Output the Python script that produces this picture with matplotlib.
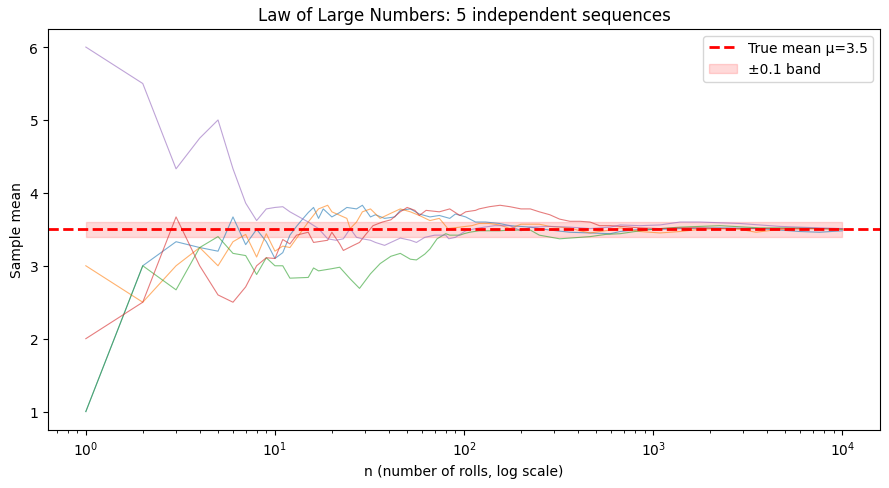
import matplotlib
matplotlib.use("Agg")
import matplotlib.pyplot as plt

# running sample means (n, mean) per sequence
n_blue = [1, 2, 3, 4, 5, 6, 7, 8, 9, 10, 11, 12, 13, 14, 15, 16, 17, 18, 20, 22, 24, 27, 29, 32, 34,
          38, 43, 46, 52, 58, 66, 74, 84, 90, 102, 115, 130, 154, 175, 224, 284, 363, 464, 593,
          669, 853, 1087, 1386, 2253, 3664, 5958, 7598, 10000]
m_blue = [1.0, 3.0, 3.33, 3.25, 3.2, 3.67, 3.29, 3.5, 3.33, 3.1, 3.18, 3.42, 3.54, 3.64, 3.73, 3.8,
          3.65, 3.78, 3.67, 3.73, 3.8, 3.78, 3.83, 3.67, 3.7, 3.65, 3.67, 3.76, 3.78, 3.71, 3.67,
          3.69, 3.65, 3.71, 3.67, 3.6, 3.6, 3.58, 3.55, 3.53, 3.49, 3.46, 3.45, 3.44, 3.47, 3.5,
          3.5, 3.51, 3.52, 3.51, 3.47, 3.46, 3.48]

n_orange = [1, 2, 3, 4, 5, 6, 7, 8, 9, 10, 11, 12, 15, 17, 19, 20, 24, 25, 27, 29, 32, 36, 41, 46,
            52, 58, 66, 74, 78, 82, 95, 110, 120, 136, 154, 175, 200, 250, 284, 320, 363, 410,
            464, 520, 593, 669, 853, 1087, 1386, 1767, 2253, 2873, 3500, 4672, 7598, 10000]
m_orange = [3.0, 2.5, 3.0, 3.25, 3.0, 3.33, 3.43, 3.12, 3.44, 3.2, 3.27, 3.25, 3.6, 3.78, 3.83,
            3.74, 3.65, 3.51, 3.6, 3.74, 3.78, 3.65, 3.72, 3.78, 3.74, 3.69, 3.62, 3.65, 3.58,
            3.51, 3.53, 3.55, 3.58, 3.58, 3.56, 3.51, 3.57, 3.57, 3.54, 3.53, 3.52, 3.48, 3.45,
            3.47, 3.49, 3.52, 3.47, 3.45, 3.47, 3.5, 3.51, 3.5, 3.46, 3.5, 3.51, 3.5]

n_green = [1, 2, 3, 4, 5, 6, 7, 8, 9, 10, 11, 12, 15, 16, 17, 20, 22, 25, 28, 32, 36, 41, 46, 52,
           56, 62, 66, 72, 80, 84, 95, 100, 107, 120, 154, 175, 224, 250, 320, 410, 464, 560,
           669, 853, 1087, 1386, 1767, 2253, 3664, 5958, 10000]
m_green = [1.0, 3.0, 2.67, 3.25, 3.4, 3.17, 3.14, 2.88, 3.11, 3.0, 3.0, 2.83, 2.84, 2.97, 2.93,
           2.96, 2.98, 2.82, 2.69, 2.89, 3.03, 3.13, 3.17, 3.09, 3.08, 3.16, 3.23, 3.37, 3.44,
           3.42, 3.42, 3.44, 3.46, 3.48, 3.48, 3.49, 3.49, 3.42, 3.37, 3.39, 3.4, 3.43, 3.44,
           3.48, 3.51, 3.53, 3.54, 3.55, 3.52, 3.52, 3.5]

n_red = [1, 2, 3, 4, 5, 6, 7, 8, 9, 10, 11, 12, 13, 15, 16, 19, 20, 22, 23, 26, 28, 30, 33, 37,
         41, 46, 50, 55, 58, 63, 74, 84, 95, 102, 115, 120, 136, 155, 175, 200, 224, 250, 284,
         320, 363, 410, 464, 520, 593, 669, 853, 1087, 1386, 1767, 2253, 3664, 10000]
m_red = [2.0, 2.5, 3.67, 3.0, 2.6, 2.5, 2.71, 3.0, 3.11, 3.1, 3.36, 3.3, 3.42, 3.46, 3.32, 3.35,
         3.46, 3.3, 3.21, 3.28, 3.32, 3.42, 3.55, 3.6, 3.63, 3.74, 3.8, 3.76, 3.69, 3.76, 3.74,
         3.78, 3.69, 3.74, 3.76, 3.78, 3.81, 3.83, 3.81, 3.78, 3.78, 3.74, 3.7, 3.64, 3.61, 3.61,
         3.6, 3.55, 3.55, 3.54, 3.52, 3.51, 3.52, 3.52, 3.51, 3.51, 3.51]

n_purple = [1, 2, 3, 4, 5, 6, 7, 8, 9, 10, 11, 12, 13, 15, 17, 19, 21, 23, 25, 27, 29, 32, 34, 38,
            41, 46, 52, 56, 62, 70, 80, 83, 90, 102, 115, 128, 145, 175, 200, 224, 284, 363, 464,
            593, 669, 853, 1087, 1386, 1767, 2253, 2873, 3664, 4672, 5958, 7598, 10000]
m_purple = [6.0, 5.5, 4.33, 4.75, 5.0, 4.33, 3.86, 3.62, 3.78, 3.8, 3.81, 3.74, 3.69, 3.6, 3.51,
            3.37, 3.35, 3.37, 3.51, 3.39, 3.37, 3.35, 3.32, 3.28, 3.32, 3.38, 3.35, 3.32, 3.39,
            3.42, 3.42, 3.37, 3.39, 3.48, 3.51, 3.53, 3.55, 3.55, 3.48, 3.53, 3.54, 3.53, 3.51,
            3.53, 3.56, 3.55, 3.56, 3.6, 3.6, 3.59, 3.58, 3.56, 3.54, 3.53, 3.52, 3.51]

true_mean = 3.5
band = 0.1
band_n = [1, 10000]

series = [(n_blue, m_blue), (n_orange, m_orange), (n_green, m_green),
          (n_red, m_red), (n_purple, m_purple)]

fig, ax = plt.subplots(figsize=(8.89, 4.89), dpi=100)
fig.subplots_adjust(left=0.054, right=0.99, top=0.939, bottom=0.119)

for n, m in series:
    ax.plot(n, m, lw=0.8, alpha=0.6)

ax.axhline(true_mean, color="red", ls="--", lw=2, label=f"True mean μ={true_mean}")
ax.fill_between(band_n, true_mean - band, true_mean + band, color="red", alpha=0.15,
                label=f"±{band} band")
ax.set_xscale("log")
ax.set_xlabel("n (number of rolls, log scale)")
ax.set_ylabel("Sample mean")
ax.set_title("Law of Large Numbers: 5 independent sequences")
ax.legend(loc="upper right")

fig.savefig("out.png", dpi=100)
